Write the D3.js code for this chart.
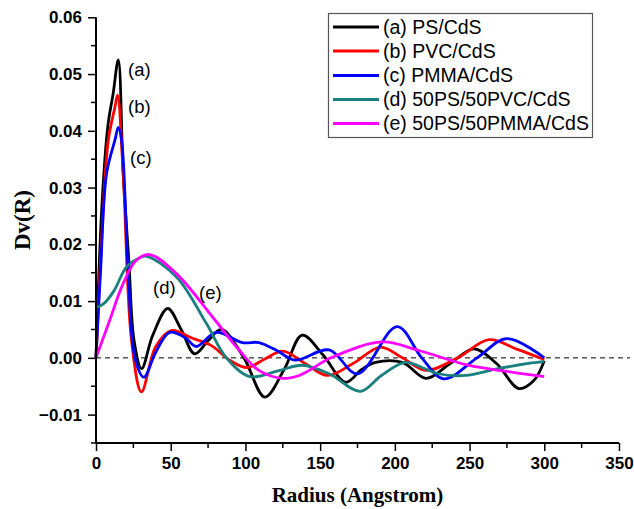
<!DOCTYPE html>
<html><head><meta charset="utf-8">
<script src="https://cdn.jsdelivr.net/npm/d3@7"></script>
<style>body{margin:0;background:#fff}svg{display:block}</style>
</head><body>
<svg id="c" width="634" height="509"></svg>
<script>
const seriesNames = ["(a) PS/CdS", "(b) PVC/CdS", "(c) PMMA/CdS", "(d) 50PS/50PVC/CdS", "(e) 50PS/50PMMA/CdS"];
const seriesColors = ["#000000", "#ff0000", "#0000ff", "#1a7f7f", "#ff00ff"];
const curveLabels = ["(a)", "(b)", "(c)", "(d)", "(e)"];

const radiusA = [0, 4, 8, 11.5, 14.9, 18.2, 22, 25.5, 30.5, 38, 48, 57, 66, 75, 84, 99, 113, 126, 138, 152, 167, 178, 187, 205, 221, 237, 253, 268, 283, 293, 300];
const dvA = [0, 0.027, 0.041, 0.0466, 0.0525, 0.0325, 0.017, 0.003, -0.0019, 0.004, 0.0087, 0.005, 0.0007, 0.003, 0.005, 0.000, -0.0069, -0.002, 0.0040, 0.0005, -0.0043, -0.002, -0.0008, -0.0008, -0.0036, -0.001, 0.0016, -0.001, -0.0054, -0.004, -0.0005];

const radiusB = [0, 4, 8.2, 12.7, 14.4, 18.2, 23.8, 30.4, 40, 50.4, 65, 77, 90, 101, 113, 125, 140, 155, 172, 190.5, 205, 221, 242, 263, 282, 300];
const dvB = [0, 0.022, 0.0383, 0.0442, 0.0463, 0.0325, 0.003, -0.006, 0.002, 0.0048, 0.0034, 0.0022, -0.0005, -0.0017, -0.0002, 0.0012, -0.001, -0.0031, -0.001, 0.0019, 0.000, -0.0022, 0.000, 0.0032, 0.0015, -0.0003];

const radiusC = [0, 3, 7.1, 12.7, 14.9, 17.1, 21.6, 26, 32, 40, 49.3, 60, 67, 80.5, 98, 109, 121, 133, 156, 175, 201.5, 218, 232.7, 255, 275, 300];
const dvC = [0, 0.015, 0.0325, 0.0384, 0.0406, 0.0384, 0.0148, 0.0001, -0.0034, 0.001, 0.0045, 0.0035, 0.002, 0.0045, 0.0027, 0.0027, 0.0013, -0.0004, 0.0014, -0.0028, 0.0055, 0.000, -0.0037, 0.000, 0.0034, 0.000];

const radiusD = [0, 5, 12, 20.4, 29, 34, 54, 74, 87, 103, 123, 138, 156, 177, 191, 207, 220, 229, 247, 269, 291.5, 300];
const dvD = [0.0089, 0.0095, 0.0118, 0.016, 0.0176, 0.0179, 0.0142, 0.006, 0.0001, -0.0033, -0.0022, -0.0013, -0.0028, -0.0059, -0.0031, -0.0008, -0.0019, -0.0028, -0.0031, -0.0019, -0.0009, -0.0006];

const radiusE = [0, 9, 18, 27, 36, 54, 78, 96, 109, 125, 136, 158, 191.5, 216, 249, 275, 300];
const dvE = [0, 0.0065, 0.013, 0.0172, 0.0182, 0.0148, 0.0072, 0.0013, -0.0022, -0.0036, -0.0031, 0.0001, 0.0028, 0.0013, -0.0013, -0.0024, -0.0033];

const xTicks = [0, 50, 100, 150, 200, 250, 300, 350];
const yTicks = [-0.01, 0.00, 0.01, 0.02, 0.03, 0.04, 0.05, 0.06];

const radii = [radiusA, radiusB, radiusC, radiusD, radiusE];
const dvs = [dvA, dvB, dvC, dvD, dvE];

const svg = d3.select("#c");
const x = d3.scaleLinear().domain([0, 350]).range([96, 619]);
const y = d3.scaleLinear().domain([-0.015, 0.06]).range([443, 17.3]);

// dashed zero line
svg.append("line").attr("x1", x(0)).attr("x2", 630).attr("y1", y(0)).attr("y2", y(0))
  .attr("stroke", "#000").attr("stroke-width", 1).attr("stroke-dasharray", "5,4");

// curves
const line = d3.line().x(d => x(d[0])).y(d => y(d[1])).curve(d3.curveCatmullRom.alpha(0.5));
radii.forEach((r, i) => {
  const pts = r.map((v, j) => [v, dvs[i][j]]);
  svg.append("path").attr("d", line(pts)).attr("fill", "none")
    .attr("stroke", seriesColors[i]).attr("stroke-width", 2.8).attr("stroke-linejoin", "round");
});

// axes
const fontTick = "bold 17px 'Liberation Sans', Arial, sans-serif";
const xAxis = d3.axisBottom(x).tickValues(xTicks).tickFormat(d3.format("d")).tickSize(8).tickPadding(6);
const gx = svg.append("g").attr("transform", `translate(0,${y(-0.015)})`).call(xAxis);
gx.selectAll(".tick text").style("font", fontTick).attr("fill", "#000");
const xMinor = d3.range(25, 350, 50);
gx.selectAll(".minor").data(xMinor).enter().append("line").attr("class", "minor")
  .attr("x1", d => x(d)).attr("x2", d => x(d)).attr("y1", 0).attr("y2", 5).attr("stroke", "#000").attr("stroke-width", 1.5);

const yAxis = d3.axisLeft(y).tickValues(yTicks).tickFormat(d3.format(".2f")).tickSize(8).tickPadding(6);
const gy = svg.append("g").attr("transform", `translate(${x(0)},0)`).call(yAxis);
gy.selectAll(".tick text").style("font", fontTick).attr("fill", "#000");
const yMinor = [-0.015, -0.005, 0.005, 0.015, 0.025, 0.035, 0.045, 0.055];
gy.selectAll(".minor").data(yMinor).enter().append("line").attr("class", "minor")
  .attr("x1", 0).attr("x2", -5).attr("y1", d => y(d)).attr("y2", d => y(d)).attr("stroke", "#000").attr("stroke-width", 1.5);
[gx, gy].forEach(g => {
  g.select(".domain").attr("stroke", "#000").attr("stroke-width", 2);
  g.selectAll(".tick line").attr("stroke", "#000").attr("stroke-width", 1.5);
});
gx.select(".domain").attr("d", `M${x(0)},0H${x(350)}`);
gy.select(".domain").attr("d", `M0,${y(-0.015)}V${y(0.06)}`);

// axis titles
svg.append("text").attr("x", (x(0) + x(350)) / 2).attr("y", 502).attr("text-anchor", "middle")
  .style("font", "bold 21px 'Liberation Serif', 'Times New Roman', serif").text("Radius (Angstrom)");
svg.append("text").attr("transform", `translate(30,220) rotate(-90)`).attr("text-anchor", "middle")
  .style("font", "bold 23px 'Liberation Serif', 'Times New Roman', serif").text("Dv(R)");

// curve labels
const labelPos = [[128, 70], [128, 107], [130, 158], [153, 288], [199, 293]];
curveLabels.forEach((t, i) => {
  svg.append("text").attr("x", labelPos[i][0]).attr("y", labelPos[i][1]).attr("dy", "0.35em")
    .style("font", "18.5px 'Liberation Sans', Arial, sans-serif").text(t);
});

// legend
const lg = svg.append("g");
lg.append("rect").attr("x", 328.5).attr("y", 13.5).attr("width", 264).attr("height", 124)
  .attr("fill", "#fff").attr("stroke", "#555").attr("stroke-width", 1.2);
const rowY = [27, 51, 75.5, 99.5, 123.5];
seriesNames.forEach((n, i) => {
  lg.append("line").attr("x1", 333).attr("x2", 379).attr("y1", rowY[i]).attr("y2", rowY[i])
    .attr("stroke", seriesColors[i]).attr("stroke-width", 2.8);
  lg.append("text").attr("x", 383).attr("y", rowY[i]).attr("dy", "0.35em")
    .style("font", "19.5px 'Liberation Sans', Arial, sans-serif").text(n);
});
</script>
</body></html>
